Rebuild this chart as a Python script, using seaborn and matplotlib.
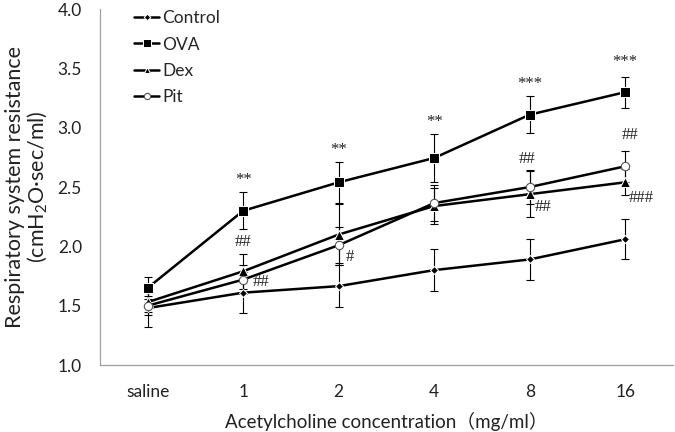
import numpy as np
import pandas as pd
import matplotlib
matplotlib.use("Agg")
import matplotlib.pyplot as plt
import seaborn as sns

# Acetylcholine challenge doses
conc = ["saline", "1", "2", "4", "8", "16"]

# Mean respiratory system resistance per group
control = [1.48, 1.61, 1.665, 1.80, 1.89, 2.06]
ova = [1.65, 2.30, 2.54, 2.745, 3.11, 3.30]
dex = [1.53, 1.79, 2.10, 2.34, 2.44, 2.54]
pit = [1.50, 1.72, 2.01, 2.365, 2.50, 2.675]

# Error bar half-lengths (SD)
control_err = [0.16, 0.175, 0.175, 0.175, 0.175, 0.17]
ova_err = [0.09, 0.155, 0.175, 0.20, 0.155, 0.13]
dex_err = [0.08, 0.145, 0.26, 0.15, 0.195, 0.11]
pit_err = [0.08, 0.12, 0.15, 0.15, 0.14, 0.13]

sns.set_style("white")
plt.rcParams["font.family"] = ["Lato", "Noto Sans CJK SC", "DejaVu Sans"]
plt.rcParams["mathtext.fontset"] = "custom"
plt.rcParams["mathtext.rm"] = "Lato"
plt.rcParams["mathtext.default"] = "regular"

fig = plt.figure(figsize=(6.75, 4.32), dpi=100)
ax = fig.add_axes([0.148, 0.155, 0.849, 0.824])

x = np.arange(len(conc)) + 0.5

groups = [
    ("Control", control, control_err, dict(marker="D", markersize=4.5, markerfacecolor="black")),
    ("OVA", ova, ova_err, dict(marker="s", markersize=7, markerfacecolor="black")),
    ("Dex", dex, dex_err, dict(marker="^", markersize=6.5, markerfacecolor="black")),
    ("Pit", pit, pit_err, dict(marker="o", markersize=6, markerfacecolor="white",
                               markeredgecolor="#555555", markeredgewidth=0.8)),
]

for name, vals, errs, mk in groups:
    ax.errorbar(x, vals, yerr=errs, fmt="none", ecolor="black", elinewidth=0.8,
                capsize=3, capthick=0.8, zorder=2)
    df = pd.DataFrame({"x": x, "y": vals})
    sns.lineplot(data=df, x="x", y="y", ax=ax, color="black", linewidth=1.8,
                 label=name, zorder=3, **mk)

# significance marks
serif = dict(family="Liberation Serif", fontsize=12, ha="center", va="center", color="#222222")
stars = [(1.5, 2.56, "**"), (2.5, 2.81, "**"), (3.5, 3.05, "**"),
         (4.5, 3.37, "***"), (5.5, 3.55, "***")]
hashes = [(1.5, 2.04, "##"), (1.69, 1.70, "##"), (2.62, 1.91, "#"),
          (4.47, 2.74, "##"), (4.64, 2.33, "##"),
          (5.55, 2.94, "##"), (5.67, 2.41, "###")]
for tx, ty, s in stars:
    ax.text(tx, ty, s, **serif)
for tx, ty, s in hashes:
    ax.text(tx, ty, s, **serif)

ax.set_xlim(0, 6)
ax.set_ylim(1.0, 4.0)
ax.set_yticks(np.arange(1.0, 4.01, 0.5))
ax.set_yticklabels([f"{v:.1f}" for v in np.arange(1.0, 4.01, 0.5)])
ax.set_xticks(np.arange(0, 7))
ax.set_xticklabels([])
ax.set_xticks(x, minor=True)
ax.set_xticklabels(conc, minor=True)
ax.tick_params(axis="x", which="major", direction="out", length=5, color="#a0a0a0", width=0.8)
ax.tick_params(axis="x", which="minor", length=0, labelsize=12.5, pad=14, labelcolor="#222222")
ax.tick_params(axis="y", direction="out", length=5, color="#a0a0a0", width=0.8,
               labelsize=12.5, labelcolor="#222222", pad=8)

for side in ["top", "right"]:
    ax.spines[side].set_visible(False)
for side in ["left", "bottom"]:
    ax.spines[side].set_color("#a0a0a0")
    ax.spines[side].set_linewidth(0.9)

ax.set_xlabel("Acetylcholine concentration（mg/ml）", fontsize=13.5, labelpad=8, color="#222222")
ax.set_ylabel("Respiratory system resistance\n(cmH$_2$O·sec/ml)", fontsize=15.5,
              labelpad=6, color="#222222", linespacing=1.05)

leg = ax.legend(loc="upper left", bbox_to_anchor=(0.06, 0.997), frameon=False,
                fontsize=12.5, handlelength=1.45, handletextpad=0.15, labelspacing=0.6,
                borderaxespad=0, borderpad=0, markerscale=0.75)

fig.savefig("out.png", dpi=100)
